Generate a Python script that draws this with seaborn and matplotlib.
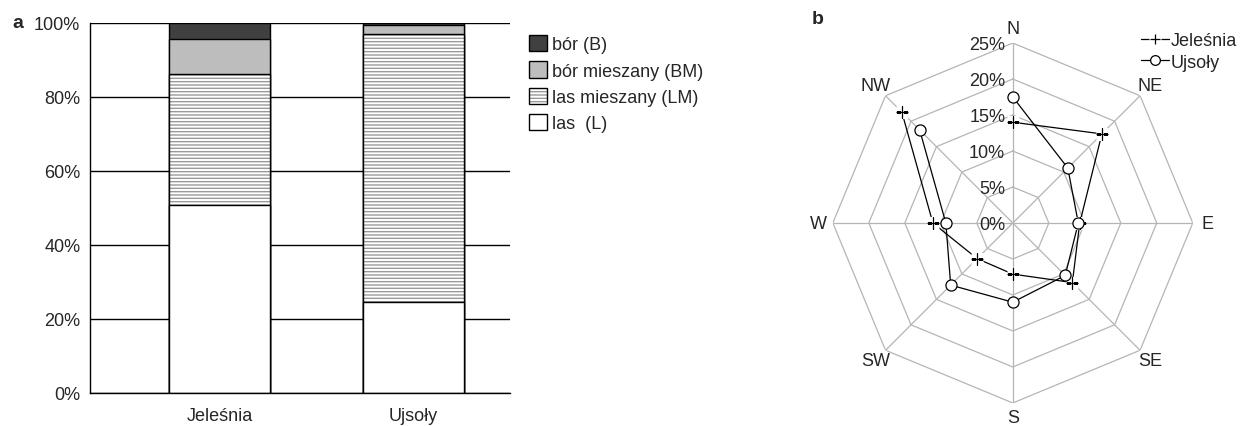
import numpy as np
import pandas as pd
import matplotlib
matplotlib.use("Agg")
import matplotlib.pyplot as plt
import seaborn as sns
from matplotlib.patches import Patch, Rectangle
from matplotlib.lines import Line2D
from matplotlib.legend_handler import HandlerBase

# ---------------- data ----------------
sites = ["Jeleśnia", "Ujsoły"]
las_L = [50.7, 24.6]
las_mieszany_LM = [35.4, 72.3]
bor_mieszany_BM = [9.7, 2.6]
bor_B = [4.2, 0.5]
forest_labels = ["bór (B)", "bór mieszany (BM)", "las mieszany (LM)", "las  (L)"]
y_ticks = [0, 20, 40, 60, 80, 100]

directions = ["N", "NE", "E", "SE", "S", "SW", "W", "NW"]
jelesnia = [14.0, 17.5, 9.3, 11.7, 7.1, 7.0, 11.1, 21.8]
ujsoly = [17.5, 10.8, 9.1, 10.3, 11.0, 12.2, 9.3, 18.3]
r_ticks = [0, 5, 10, 15, 20, 25]
series_names = ["Jeleśnia", "Ujsoły"]

# ---------------- style ----------------
sns.set_theme(style="white")
plt.rcParams["font.family"] = ["Liberation Sans", "DejaVu Sans"]
FS = 13
HATCH = "-----"
HATCH_COL = "#9a9a9a"


class HatchBoxHandler(HandlerBase):
    def create_artists(self, legend, orig_handle, xdescent, ydescent,
                       width, height, fontsize, trans):
        r1 = Rectangle((-xdescent, -ydescent), width, height, facecolor="white",
                       edgecolor=HATCH_COL, linewidth=0, hatch=HATCH, transform=trans)
        r2 = Rectangle((-xdescent, -ydescent), width, height, facecolor="none",
                       edgecolor="black", linewidth=1, transform=trans)
        return [r1, r2]


class MarkerLineHandler(HandlerBase):
    def __init__(self, kind):
        super().__init__()
        self.kind = kind

    def create_artists(self, legend, orig_handle, xdescent, ydescent,
                       width, height, fontsize, trans):
        y = height / 2 - ydescent
        x0, x1 = -xdescent, width - xdescent
        xm = (x0 + x1) / 2
        arts = [Line2D([x0, x1], [y, y], color="black", lw=0.9, transform=trans)]
        if self.kind == "plus":
            arts.append(Line2D([xm], [y], ls="none", marker="s", ms=9, mfc="white",
                               mec="none", transform=trans))
            arts.append(Line2D([xm], [y], ls="none", marker="+", ms=7, mew=0.9,
                               color="black", transform=trans))
        else:
            arts.append(Line2D([xm], [y], ls="none", marker="o", ms=7, mfc="white",
                               mec="black", mew=0.9, transform=trans))
        return arts


fig = plt.figure(figsize=(12.43, 4.27), dpi=100)

# ---------------- panel a: stacked bars ----------------
ax = fig.add_axes([0.0724, 0.0773, 0.3379, 0.8665])
L = np.array(las_L)
LM = np.array(las_mieszany_LM)
BM = np.array(bor_mieszany_BM)
B = np.array(bor_B)
df = pd.DataFrame({"site": sites, "c1": L, "c2": L + LM, "c3": L + LM + BM,
                   "c4": L + LM + BM + B})
W = 0.52
sns.barplot(data=df, x="site", y="c4", color="#404040", edgecolor="black",
            linewidth=1, width=W, errorbar=None, saturation=1, ax=ax, zorder=2)
sns.barplot(data=df, x="site", y="c3", color="#bdbdbd", edgecolor="black",
            linewidth=1, width=W, errorbar=None, saturation=1, ax=ax, zorder=2)
sns.barplot(data=df, x="site", y="c2", color="white", edgecolor=HATCH_COL,
            linewidth=0, width=W, errorbar=None, saturation=1, ax=ax,
            hatch=HATCH, zorder=2)
sns.barplot(data=df, x="site", y="c2", color="black", fill=False,
            linewidth=1, width=W, errorbar=None, ax=ax, zorder=2)
sns.barplot(data=df, x="site", y="c1", color="white", edgecolor="black",
            linewidth=1, width=W, errorbar=None, saturation=1, ax=ax, zorder=2)

ax.set_xlim(-0.667, 1.497)
ax.set_ylim(0, 100)
ax.set_yticks(y_ticks)
ax.set_yticklabels([f"{v}%" for v in y_ticks], fontsize=FS)
ax.set_xticks([0, 1])
ax.set_xticklabels(sites, fontsize=FS)
ax.set_xticks([0.652], minor=True)
ax.tick_params(axis="x", which="major", length=0, pad=10)
ax.tick_params(axis="x", which="minor", length=6, width=1, color="black", direction="out")
ax.tick_params(axis="y", which="major", length=5, width=1, color="black", direction="out", pad=2)
ax.set_xlabel("")
ax.set_ylabel("")
ax.yaxis.grid(True, color="black", linewidth=1)
ax.set_axisbelow(True)
for s in ["top", "right"]:
    ax.spines[s].set_visible(False)
for s in ["left", "bottom"]:
    ax.spines[s].set_color("black")
    ax.spines[s].set_linewidth(1)
ax.set_facecolor("white")

h_B = Patch(facecolor="#404040", edgecolor="black", linewidth=1)
h_BM = Patch(facecolor="#bdbdbd", edgecolor="black", linewidth=1)
h_LM = Patch(facecolor="white", edgecolor="black")
h_L = Patch(facecolor="white", edgecolor="black", linewidth=1)
fig.legend([h_B, h_BM, h_LM, h_L], forest_labels, loc="upper left",
           bbox_to_anchor=(529 / 1243, 1 - 36 / 427), frameon=False, fontsize=FS,
           handlelength=1.0, handleheight=1.0, handletextpad=0.3, labelspacing=0.45,
           borderpad=0, borderaxespad=0,
           handler_map={h_LM: HatchBoxHandler()})

fig.text(0.0097, 0.945, "a", fontsize=14, fontweight="bold", va="center", ha="left")

# ---------------- panel b: radar ----------------
ax2 = fig.add_axes([0.670, 0.0539, 0.2896, 0.843], projection="polar")
ax2.set_theta_zero_location("N")
ax2.set_theta_direction(-1)
ax2.set_ylim(0, 25)
ax2.grid(False)
ax2.spines["polar"].set_visible(False)
ax2.set_xticks([])
ax2.set_yticks([])
ax2.set_facecolor("none")

theta = np.deg2rad(np.arange(len(directions)) * 45.0)
theta_c = np.append(theta, theta[0])
grid_col = "#b5b5b5"
for r in r_ticks[1:]:
    ax2.plot(theta_c, [r] * len(theta_c), color=grid_col, lw=0.9, zorder=1)
for a in theta:
    ax2.plot([a, a], [0, r_ticks[-1]], color=grid_col, lw=0.9, zorder=1)

for r in r_ticks:
    ax2.annotate(f"{r}%", xy=(0, r), xytext=(-5.5, -1), textcoords="offset points",
                 ha="right", va="center", fontsize=FS, zorder=3)
for a, d in zip(theta, directions):
    ax2.text(a, 27.0, d, ha="center", va="center", fontsize=FS)

jel_c = np.append(jelesnia, jelesnia[0])
uj_c = np.append(ujsoly, ujsoly[0])
sns.lineplot(x=theta_c, y=jel_c, sort=False, color="black", lw=0.9, ax=ax2, zorder=4)
sns.lineplot(x=theta_c, y=uj_c, sort=False, color="black", lw=0.9, ax=ax2, zorder=4)
ax2.plot(theta, jelesnia, ls="none", marker="s", ms=8, mfc="white", mec="none", zorder=5)
ax2.plot(theta, jelesnia, ls="none", marker="+", ms=8, mew=0.9, color="black", zorder=6)
ax2.plot(theta, ujsoly, ls="none", marker="o", ms=8, mfc="white", mec="black", mew=0.9, zorder=6)
ax2.set_xlabel("")
ax2.set_ylabel("")

h_j = Line2D([], [], color="black")
h_u = Line2D([], [], color="gray")
fig.legend([h_j, h_u], series_names, loc="upper left",
           bbox_to_anchor=(1141 / 1243, 1 - 33 / 427), frameon=False, fontsize=FS,
           handlelength=1.55, handletextpad=0.1, labelspacing=0.25,
           borderpad=0, borderaxespad=0,
           handler_map={h_j: MarkerLineHandler("plus"), h_u: MarkerLineHandler("circle")})

fig.text(818 / 1243, 1 - 19 / 427, "b", fontsize=14, fontweight="bold", va="center", ha="center")

fig.savefig("out.png", dpi=100, facecolor="white")
